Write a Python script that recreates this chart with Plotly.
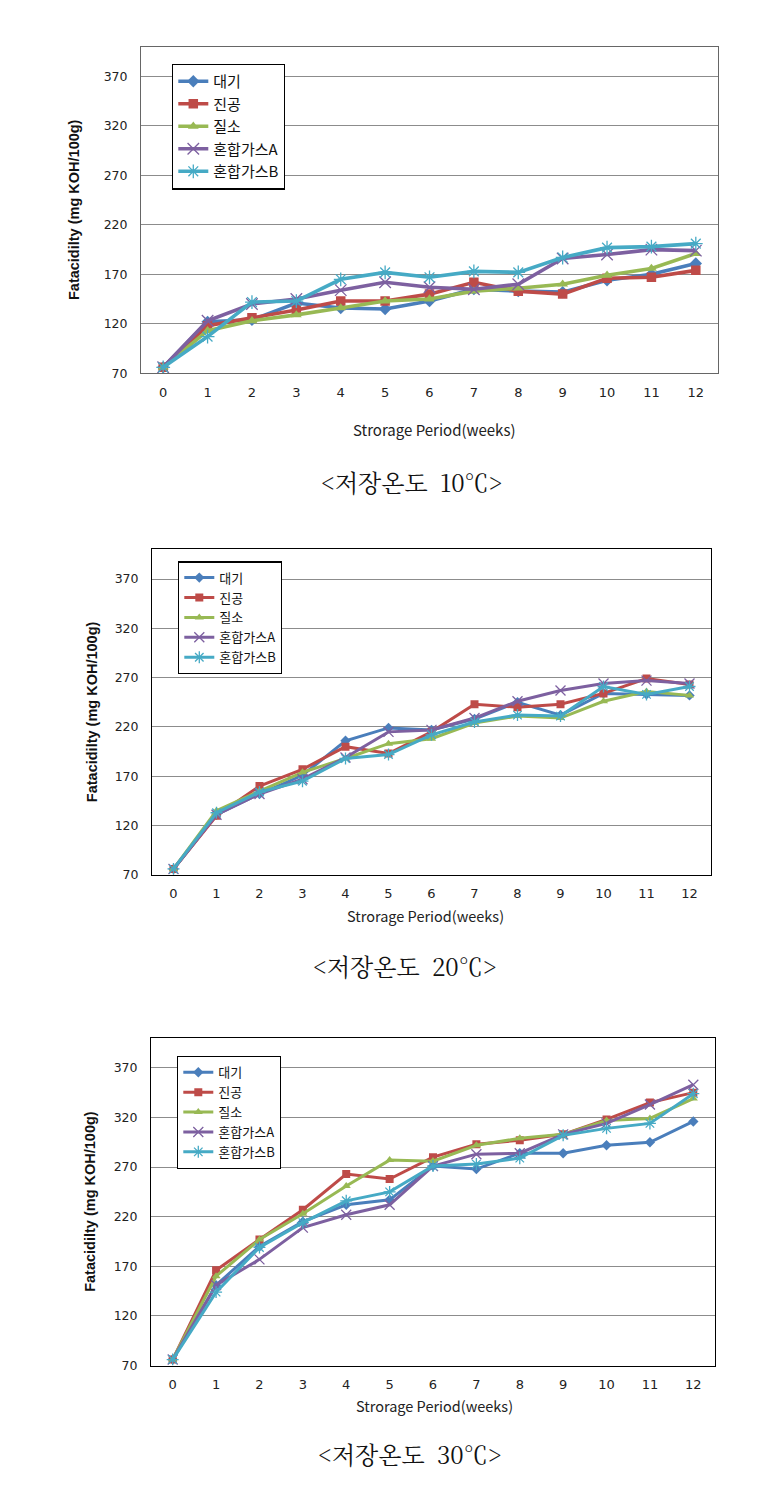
import plotly.graph_objects as go

# weeks on the x axis
weeks = list(range(13))
series_names = ["대기", "진공", "질소", "혼합가스A", "혼합가스B"]

# 10℃ panel
t10_daegi = [76, 122, 124, 141, 136, 135, 143, 155, 153, 152, 164, 170, 181]
t10_jingong = [76, 118, 126, 134, 143, 143, 150, 162, 153, 150, 166, 167, 174]
t10_jilso = [76, 113, 123, 129, 136, 143, 145, 153, 156, 160, 169, 176, 191]
t10_gasA = [76, 123, 140, 145, 154, 162, 157, 155, 160, 186, 190, 195, 194]
t10_gasB = [76, 107, 142, 143, 165, 172, 167, 173, 172, 187, 197, 198, 201]

# 20℃ panel
t20_daegi = [76, 131, 152, 171, 206, 219, 217, 228, 245, 232, 254, 253, 252]
t20_jingong = [76, 130, 160, 177, 200, 193, 215, 243, 240, 243, 254, 269, 263]
t20_jilso = [76, 135, 155, 174, 188, 203, 208, 224, 231, 229, 246, 256, 252]
t20_gasA = [76, 131, 152, 167, 189, 215, 217, 229, 246, 257, 264, 267, 264]
t20_gasB = [76, 133, 154, 165, 188, 192, 212, 225, 232, 231, 261, 253, 261]

# 30℃ panel
t30_daegi = [76, 151, 190, 215, 232, 237, 271, 268, 284, 284, 292, 295, 316]
t30_jingong = [76, 166, 197, 227, 263, 258, 280, 293, 297, 303, 318, 335, 345]
t30_jilso = [76, 160, 197, 223, 251, 277, 276, 292, 299, 303, 317, 319, 339]
t30_gasA = [76, 151, 177, 209, 222, 232, 271, 283, 284, 303, 314, 333, 353]
t30_gasB = [76, 144, 189, 214, 236, 245, 271, 273, 279, 302, 309, 314, 344]

y_ticks = [70, 120, 170, 220, 270, 320, 370]
captions = ["<저장온도  10℃>", "<저장온도  20℃>", "<저장온도  30℃>"]
x_title = "Strorage Period(weeks)"
y_title = "Fatacidilty (mg KOH/100g)"

colors = ["#4A7EBB", "#BE4B48", "#98B954", "#7D60A0", "#46AAC5"]
symbols = ["diamond", "square", "triangle-up", "x-thin", "asterisk"]

# page is 760x1490, body margin of 8px around the figure
OFF = 8
W, H = 760 - 2 * OFF, 1490 - 2 * OFF

def px(x):
    return (x - OFF) / W

def py(y):
    return 1 - (y - OFF) / H

# plot frames in page pixels: left, right, top, bottom
panels = [
    dict(data=[t10_daegi, t10_jingong, t10_jilso, t10_gasA, t10_gasB],
         box=(141, 718, 47, 375), leg=(172, 64), lfont=15, lw=3.6, ms=9.5,
         ytitle_x=74, ysize=14.5, xtitle=(434, 432), xsize=15, cap=(412, 484), frame="#666666"),
    dict(data=[t20_daegi, t20_jingong, t20_jilso, t20_gasA, t20_gasB],
         box=(152, 711, 552, 879), leg=(178, 564), lfont=13, lw=3, ms=8,
         ytitle_x=92, ysize=14.5, xtitle=(426, 920), xsize=14.5, cap=(405, 970), frame="#000000"),
    dict(data=[t30_daegi, t30_jingong, t30_jilso, t30_gasA, t30_gasB],
         box=(151, 715, 1043, 1372), leg=(177, 1061), lfont=13, lw=3, ms=8,
         ytitle_x=90, ysize=14.5, xtitle=(434, 1412), xsize=14.5, cap=(410, 1460), frame="#000000"),
]

fig = go.Figure()
layout = dict(width=W, height=H, margin=dict(l=0, r=0, t=0, b=0),
              paper_bgcolor="white", plot_bgcolor="white")
annotations = []

for i, p in enumerate(panels):
    n = "" if i == 0 else str(i + 1)
    l, r, t, b = p["box"]
    for k, vals in enumerate(p["data"]):
        sym = symbols[k]
        thin = sym in ("x-thin", "asterisk")
        fig.add_trace(go.Scatter(
            x=weeks, y=vals, name=series_names[k], mode="lines+markers",
            xaxis="x" + n, yaxis="y" + n, legend="legend" + n,
            line=dict(color=colors[k], width=p["lw"]),
            marker=dict(symbol=sym, size=p["ms"] + (2 if thin else 0), color=colors[k],
                        line=dict(color=colors[k], width=1.3 if thin else 0)),
        ))
    layout["xaxis" + n] = dict(
        domain=[px(l), px(r)], anchor="y" + n, range=[-0.5, 12.5],
        tickvals=weeks, showgrid=False, zeroline=False,
        showline=True, mirror=True, linecolor=p["frame"], linewidth=1,
        ticks="", ticklabelstandoff=7,
        tickfont=dict(family="DejaVu Sans", size=13, color="#222"))
    layout["yaxis" + n] = dict(
        domain=[py(b), py(t)], anchor="x" + n, range=[70, 400],
        tickvals=y_ticks, showgrid=True, gridcolor="#8c8c8c", gridwidth=1,
        zeroline=False, showline=True, mirror=True, linecolor=p["frame"], linewidth=1,
        ticks="", ticklabelstandoff=10,
        tickfont=dict(family="DejaVu Sans", size=12.5, color="#222"))
    layout["legend" + n] = dict(
        x=px(p["leg"][0]), y=py(p["leg"][1]), xanchor="left", yanchor="top",
        bgcolor="white", bordercolor="black", borderwidth=1.3,
        font=dict(family="Noto Sans CJK KR", size=p["lfont"], color="#111"),
        itemwidth=30, tracegroupgap=0)
    annotations.append(dict(
        text="<b>" + y_title + "</b>", textangle=-90, xref="paper", yref="paper",
        x=px(p["ytitle_x"]), y=py((t + b) / 2), xanchor="center", yanchor="middle",
        showarrow=False, font=dict(family="Liberation Sans", size=p["ysize"], color="#111")))
    annotations.append(dict(
        text=x_title, xref="paper", yref="paper",
        x=px(p["xtitle"][0]), y=py(p["xtitle"][1]), xanchor="center", yanchor="middle",
        showarrow=False, font=dict(family="Noto Sans CJK KR", size=p["xsize"], color="#222")))
    annotations.append(dict(
        text=captions[i], xref="paper", yref="paper",
        x=px(p["cap"][0]), y=py(p["cap"][1]), xanchor="center", yanchor="middle",
        showarrow=False,
        font=dict(family="Noto Serif CJK KR, Noto Sans CJK KR", size=24, color="#111")))

layout["annotations"] = annotations
fig.update_layout(**layout)
fig.write_html("out.html")
